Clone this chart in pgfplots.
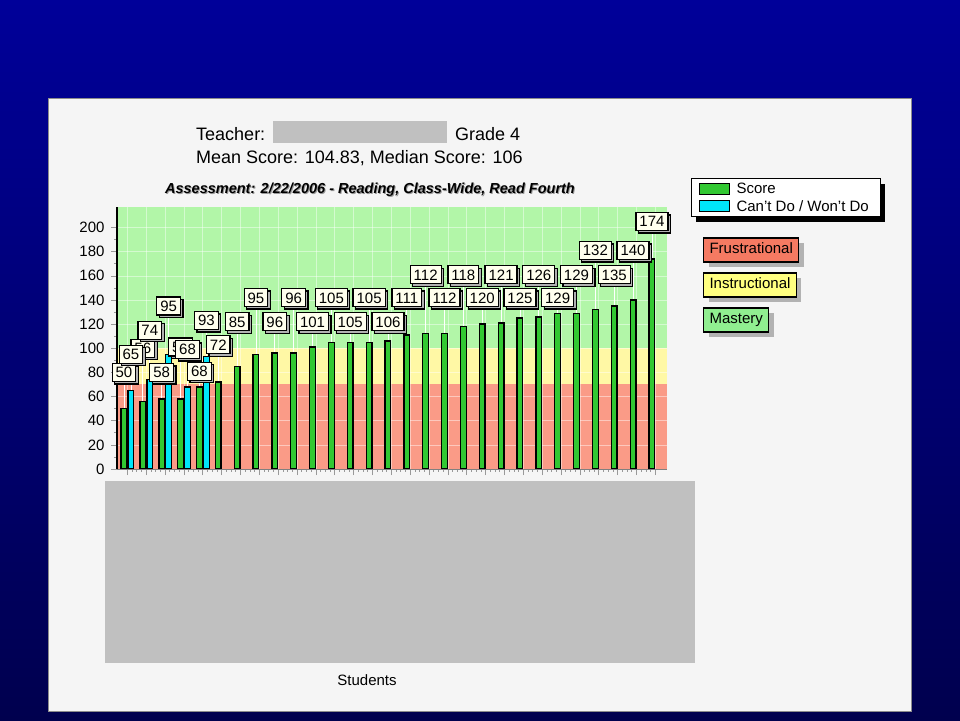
\documentclass[border=0pt]{standalone}
\usepackage{fontspec}
\setmainfont{Liberation Sans}
\usepackage{pgfplots}
\pgfplotsset{compat=1.18}
\usepackage{pgfplotstable}
\usetikzlibrary{shadows}

\definecolor{topblue}{RGB}{0,0,153}
\definecolor{botblue}{RGB}{0,0,78}
\definecolor{panel}{RGB}{245,245,245}
\definecolor{redact}{RGB}{192,192,192}
\definecolor{bandred}{RGB}{250,155,135}
\definecolor{bandyel}{RGB}{255,248,165}
\definecolor{bandgrn}{RGB}{178,246,168}
\definecolor{scoregreen}{RGB}{50,200,50}
\definecolor{cantcyan}{RGB}{0,230,250}
\definecolor{labbg}{RGB}{255,255,238}
\definecolor{frust}{RGB}{245,122,98}
\definecolor{instr}{RGB}{255,255,128}
\definecolor{mast}{RGB}{144,238,144}

% x = student slot, v = value, ly = height of the value box
\pgfplotstableread{
x v ly
1 50 80
2 56 100
3 58 80
4 58 101
5 68 81
6 72 103
7 85 122
8 95 142
9 96 122
10 96 142
11 101 122
12 105 142
13 105 122
14 105 142
15 106 122
16 111 142
17 112 161
18 112 142
19 118 161
20 120 142
21 121 161
22 125 142
23 126 161
24 129 142
25 129 161
26 132 181
27 135 161
28 140 181
29 174 205
}\scoredata

\pgfplotstableread{
x v ly
1.37 65 95
2.37 74 115
3.37 95 135
4.37 68 99
5.37 93 123
}\cantdata

\newcommand\labfont{\fontsize{15}{15}\selectfont}
\tikzset{
  lab/.style={anchor=center, fill=labbg,
    draw=black, line width=1.2pt, inner xsep=3.5pt, inner ysep=3.5pt,
    text height=11pt, text depth=0pt,
    drop shadow={shadow xshift=2.5pt, shadow yshift=-2.5pt, fill=black!30, opacity=1}},
  level/.style={anchor=west, draw=black, line width=1.1pt, font=\fontsize{15}{15}\selectfont,
    minimum height=24pt, inner xsep=6pt, text height=11pt, text depth=3pt,
    drop shadow={shadow xshift=5pt, shadow yshift=-5pt, fill=black!30, opacity=1}},
}

\begin{document}
\begin{tikzpicture}[x=1pt,y=1pt]
\path[use as bounding box] (0,0) rectangle (960,720);
\shade[top color=topblue, bottom color=botblue] (0,0) rectangle (960,720);
\fill[panel] (48,9) rectangle (911,621);
\draw[black!45, line width=1pt] (48,9) rectangle (911,621);

% header
\node[anchor=base west, inner sep=0pt, font=\fontsize{18}{18}\selectfont] at (196,579) {Teacher:};
\fill[redact] (273,577) rectangle (447,599);
\node[anchor=base west, inner sep=0pt, font=\fontsize{18}{18}\selectfont] at (455,579) {Grade 4};
\node[anchor=base west, inner sep=0pt, font=\fontsize{18}{18}\selectfont] at (196,556) {Mean Score: 104.83, Median Score: 106};
\node[anchor=base, font=\fontsize{14.5}{14.5}\selectfont\bfseries\itshape, text=black!40] at (371,525) {Assessment: 2/22/2006 - Reading, Class-Wide, Read Fourth};
\node[anchor=base, font=\fontsize{14.5}{14.5}\selectfont\bfseries\itshape] at (370,526) {Assessment: 2/22/2006 - Reading, Class-Wide, Read Fourth};

% redacted student names
\fill[redact] (105,57) rectangle (695,239);
\node[anchor=base, font=\fontsize{15}{15}\selectfont] at (367,35) {Students};

% legend
\fill[black] (696,498) rectangle (885,536);
\draw[black, line width=1pt, fill=white] (691,503) rectangle (880,541);
\draw[black, fill=scoregreen] (699,526) rectangle (729,537);
\draw[black, fill=cantcyan] (699,509) rectangle (729,520);
\node[anchor=base west, font=\fontsize{15}{15}\selectfont] at (733,526) {Score};
\node[anchor=base west, font=\fontsize{15}{15}\selectfont] at (733,508) {Can't Do / Won't Do};

\node[level, fill=frust] at (703,470) {Frustrational};
\node[level, fill=instr] at (703,435) {Instructional};
\node[level, fill=mast] at (703,400) {Mastery};

\begin{axis}[
  at={(117pt,251pt)}, anchor=south west,
  width=550pt, height=262pt, scale only axis,
  xmin=0.63, xmax=29.8, ymin=0, ymax=217,
  axis x line*=bottom, axis y line*=left,
  axis line style={-},
  y axis line style={black, line width=2.4pt},
  x axis line style={black!50, line width=0.5pt},
  ytick={0,20,...,200}, minor y tick num=1,
  xtick={1.18,2.18,...,29.18}, xticklabels={}, minor x tick num=3,
  tick align=outside, major tick length=6pt, minor tick length=3pt,
  tick style={black!40, line width=0.6pt},
  yticklabel style={font=\fontsize{15}{15}\selectfont, xshift=-3pt},
  /pgf/number format/assume math mode=true,
  axis on top,
]
% performance bands
\fill[bandred] (axis cs:0.63,0) rectangle (axis cs:29.8,70);
\fill[bandyel] (axis cs:0.63,70) rectangle (axis cs:29.8,100);
\fill[bandgrn] (axis cs:0.63,100) rectangle (axis cs:29.8,217);

% light grid
\addplot[ycomb, mark=none, white, opacity=0.45, line width=0.6pt] coordinates {
 (1.18,217) (2.18,217) (3.18,217) (4.18,217) (5.18,217) (6.18,217) (7.18,217)
 (8.18,217) (9.18,217) (10.18,217) (11.18,217) (12.18,217) (13.18,217) (14.18,217)
 (15.18,217) (16.18,217) (17.18,217) (18.18,217) (19.18,217) (20.18,217) (21.18,217)
 (22.18,217) (23.18,217) (24.18,217) (25.18,217) (26.18,217) (27.18,217) (28.18,217)
 (29.18,217)};
\addplot[xcomb, mark=none, white, opacity=0.45, line width=0.6pt] coordinates {
 (29.8,20) (29.8,40) (29.8,60) (29.8,80) (29.8,100) (29.8,120) (29.8,140)
 (29.8,160) (29.8,180) (29.8,200)};

% connectors from bar top to value box
\addplot[draw=none, mark=none, error bars/.cd, y dir=minus, y explicit, error mark=none,
  error bar style={draw=white, line width=0.8pt}]
  table[x=x, y=ly, y error minus expr=\thisrow{ly}-\thisrow{v}] {\scoredata};
\addplot[draw=none, mark=none, error bars/.cd, y dir=minus, y explicit, error mark=none,
  error bar style={draw=white, line width=0.8pt}]
  table[x=x, y=ly, y error minus expr=\thisrow{ly}-\thisrow{v}] {\cantdata};

% Score
\addplot[ybar, bar width=0.3, bar shift=0pt, fill=scoregreen, draw=black, line width=1.3pt]
  table[x=x, y=v] {\scoredata};
\addplot[only marks, mark=none, point meta=explicit symbolic,
  nodes near coords={\labfont\pgfplotspointmeta},
  nodes near coords style={lab}] table[x=x, y=ly, meta=v] {\scoredata};

% Can't Do / Won't Do
\addplot[ybar, bar width=0.3, bar shift=0pt, fill=cantcyan, draw=black, line width=1.3pt]
  table[x=x, y=v] {\cantdata};
\addplot[only marks, mark=none, point meta=explicit symbolic,
  nodes near coords={\labfont\pgfplotspointmeta},
  nodes near coords style={lab}] table[x=x, y=ly, meta=v] {\cantdata};
\end{axis}
\end{tikzpicture}
\end{document}
